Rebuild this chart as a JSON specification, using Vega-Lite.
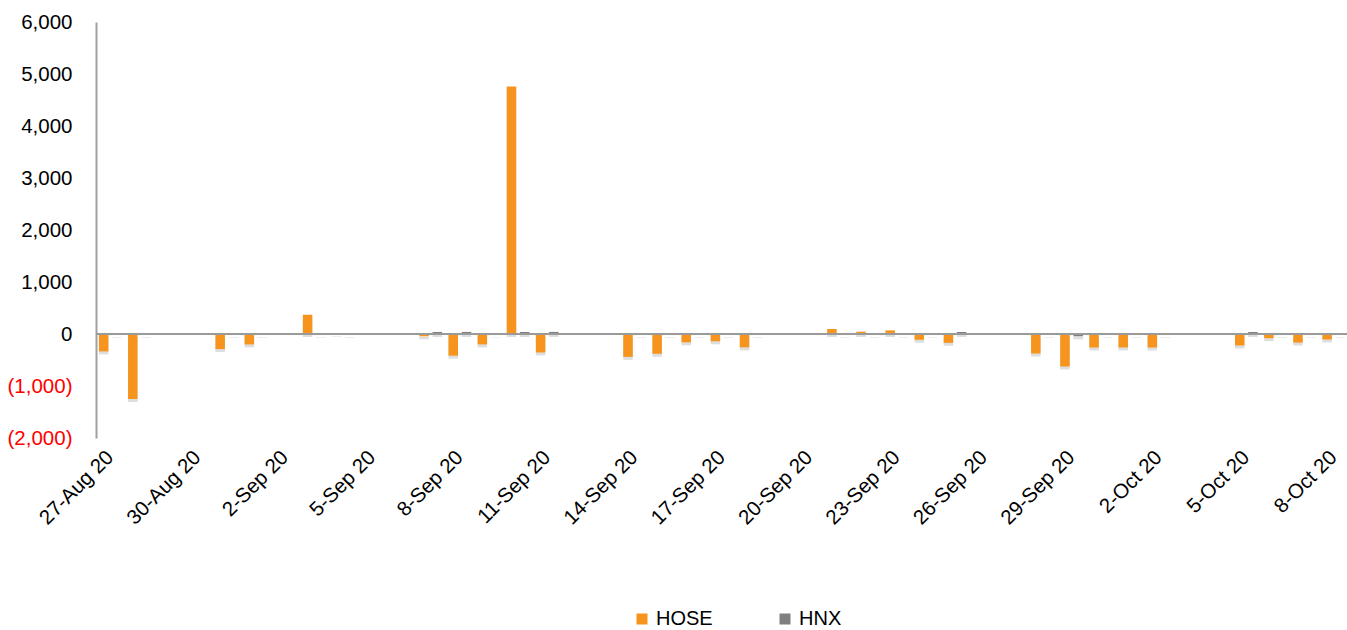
{
  "$schema": "https://vega.github.io/schema/vega-lite/v6.json",
  "width": 1252,
  "height": 416,
  "autosize": {"type": "none"},
  "padding": {"left": 96, "top": 22, "right": 0, "bottom": 192},
  "background": "white",
  "config": {"view": {"stroke": null}, "font": "Liberation Sans"},
  "data": {
    "values": [
      {"date": "27-Aug 20", "market": "HOSE", "value": -335}, {"date": "27-Aug 20", "market": "HNX", "value": -10},
      {"date": "28-Aug 20", "market": "HOSE", "value": -1250}, {"date": "28-Aug 20", "market": "HNX", "value": -10},
      {"date": "31-Aug 20", "market": "HOSE", "value": -290}, {"date": "31-Aug 20", "market": "HNX", "value": -10},
      {"date": "1-Sep 20", "market": "HOSE", "value": -200}, {"date": "1-Sep 20", "market": "HNX", "value": -10},
      {"date": "3-Sep 20", "market": "HOSE", "value": 370}, {"date": "3-Sep 20", "market": "HNX", "value": -10},
      {"date": "4-Sep 20", "market": "HOSE", "value": 10}, {"date": "4-Sep 20", "market": "HNX", "value": -10},
      {"date": "7-Sep 20", "market": "HOSE", "value": -45}, {"date": "7-Sep 20", "market": "HNX", "value": 38},
      {"date": "8-Sep 20", "market": "HOSE", "value": -417}, {"date": "8-Sep 20", "market": "HNX", "value": 40},
      {"date": "9-Sep 20", "market": "HOSE", "value": -200}, {"date": "9-Sep 20", "market": "HNX", "value": -8},
      {"date": "10-Sep 20", "market": "HOSE", "value": 4760}, {"date": "10-Sep 20", "market": "HNX", "value": 38},
      {"date": "11-Sep 20", "market": "HOSE", "value": -355}, {"date": "11-Sep 20", "market": "HNX", "value": 40},
      {"date": "14-Sep 20", "market": "HOSE", "value": -440}, {"date": "14-Sep 20", "market": "HNX", "value": -10},
      {"date": "15-Sep 20", "market": "HOSE", "value": -380}, {"date": "15-Sep 20", "market": "HNX", "value": -10},
      {"date": "16-Sep 20", "market": "HOSE", "value": -160}, {"date": "16-Sep 20", "market": "HNX", "value": -10},
      {"date": "17-Sep 20", "market": "HOSE", "value": -140}, {"date": "17-Sep 20", "market": "HNX", "value": -10},
      {"date": "18-Sep 20", "market": "HOSE", "value": -257}, {"date": "18-Sep 20", "market": "HNX", "value": -10},
      {"date": "21-Sep 20", "market": "HOSE", "value": 96}, {"date": "21-Sep 20", "market": "HNX", "value": -10},
      {"date": "22-Sep 20", "market": "HOSE", "value": 45}, {"date": "22-Sep 20", "market": "HNX", "value": -10},
      {"date": "23-Sep 20", "market": "HOSE", "value": 70}, {"date": "23-Sep 20", "market": "HNX", "value": -10},
      {"date": "24-Sep 20", "market": "HOSE", "value": -110}, {"date": "24-Sep 20", "market": "HNX", "value": -8},
      {"date": "25-Sep 20", "market": "HOSE", "value": -170}, {"date": "25-Sep 20", "market": "HNX", "value": 38},
      {"date": "28-Sep 20", "market": "HOSE", "value": -375}, {"date": "28-Sep 20", "market": "HNX", "value": -10},
      {"date": "29-Sep 20", "market": "HOSE", "value": -625}, {"date": "29-Sep 20", "market": "HNX", "value": -45},
      {"date": "30-Sep 20", "market": "HOSE", "value": -260}, {"date": "30-Sep 20", "market": "HNX", "value": -10},
      {"date": "1-Oct 20", "market": "HOSE", "value": -260}, {"date": "1-Oct 20", "market": "HNX", "value": -10},
      {"date": "2-Oct 20", "market": "HOSE", "value": -260}, {"date": "2-Oct 20", "market": "HNX", "value": -10},
      {"date": "5-Oct 20", "market": "HOSE", "value": -220}, {"date": "5-Oct 20", "market": "HNX", "value": 38},
      {"date": "6-Oct 20", "market": "HOSE", "value": -80}, {"date": "6-Oct 20", "market": "HNX", "value": -10},
      {"date": "7-Oct 20", "market": "HOSE", "value": -165}, {"date": "7-Oct 20", "market": "HNX", "value": -10},
      {"date": "8-Oct 20", "market": "HOSE", "value": -105}, {"date": "8-Oct 20", "market": "HNX", "value": -10}
    ]
  },
  "layer": [
    {
      "encoding": {
        "x": {
          "field": "date",
          "type": "ordinal",
          "sort": null,
          "scale": {
            "domain": ["27-Aug 20","28-Aug 20","29-Aug 20","30-Aug 20","31-Aug 20",
              "1-Sep 20","2-Sep 20","3-Sep 20","4-Sep 20","5-Sep 20","6-Sep 20","7-Sep 20","8-Sep 20","9-Sep 20","10-Sep 20",
              "11-Sep 20","12-Sep 20","13-Sep 20","14-Sep 20","15-Sep 20","16-Sep 20","17-Sep 20","18-Sep 20","19-Sep 20","20-Sep 20",
              "21-Sep 20","22-Sep 20","23-Sep 20","24-Sep 20","25-Sep 20","26-Sep 20","27-Sep 20","28-Sep 20","29-Sep 20","30-Sep 20",
              "1-Oct 20","2-Oct 20","3-Oct 20","4-Oct 20","5-Oct 20","6-Oct 20","7-Oct 20","8-Oct 20"],
            "paddingInner": 0.22,
            "paddingOuter": 0.1
          },
          "axis": {
            "title": null,
            "values": ["27-Aug 20","30-Aug 20","2-Sep 20","5-Sep 20","8-Sep 20","11-Sep 20","14-Sep 20","17-Sep 20","20-Sep 20","23-Sep 20","26-Sep 20","29-Sep 20","2-Oct 20","5-Oct 20","8-Oct 20"],
            "domain": false,
            "ticks": false,
            "labelAngle": -45,
            "labelAlign": "right",
            "labelBaseline": "middle",
            "labelFontSize": 20.5,
            "labelFont": "Liberation Sans",
            "labelColor": "#000000",
            "labelPadding": 16,
            "labelOverlap": false
          }
        },
        "xOffset": {"field": "market", "type": "nominal", "sort": ["HOSE", "HNX"], "scale": {"paddingInner": 0.28}},
        "y": {
          "field": "value",
          "type": "quantitative",
          "scale": {"domain": [-2000, 6000], "nice": false, "zero": false},
          "axis": {
            "title": null,
            "values": [-2000, -1000, 0, 1000, 2000, 3000, 4000, 5000, 6000],
            "grid": false,
            "ticks": false,
            "domain": true,
            "domainColor": "#A0A0A0",
            "domainWidth": 2,
            "labelFontSize": 20.5,
            "labelFont": "Liberation Sans",
            "labelPadding": 24,
            "labelExpr": "datum.value < 0 ? '(' + format(-datum.value, ',') + ')' : format(datum.value, ',')",
            "labelColor": {"condition": {"test": "datum.value < 0", "value": "#FF0000"}, "value": "#000000"}
          }
        }
      },
      "layer": [
        {
          "mark": {"type": "bar", "color": "#000000", "opacity": 0.13, "xOffset": 2, "yOffset": 3}
        },
        {
          "mark": {"type": "bar"},
          "encoding": {
            "color": {
              "field": "market",
              "type": "nominal",
              "scale": {"domain": ["HOSE", "HNX"], "range": ["#F7941D", "#7F7F7F"]},
              "legend": {
                "orient": "none",
                "legendX": 536,
                "legendY": 587,
                "direction": "horizontal",
                "title": null,
                "symbolType": "square",
                "symbolSize": 121,
                "symbolStrokeWidth": 0,
                "labelFontSize": 20,
                "labelFont": "Liberation Sans",
                "labelColor": "#000000",
                "labelOffset": 4,
                "columnPadding": 62,
                "padding": 0
              }
            }
          }
        }
      ]
    },
    {
      "mark": {"type": "rule", "color": "#9A9A9A", "strokeWidth": 2},
      "encoding": {"y": {"datum": 0}}
    }
  ]
}
